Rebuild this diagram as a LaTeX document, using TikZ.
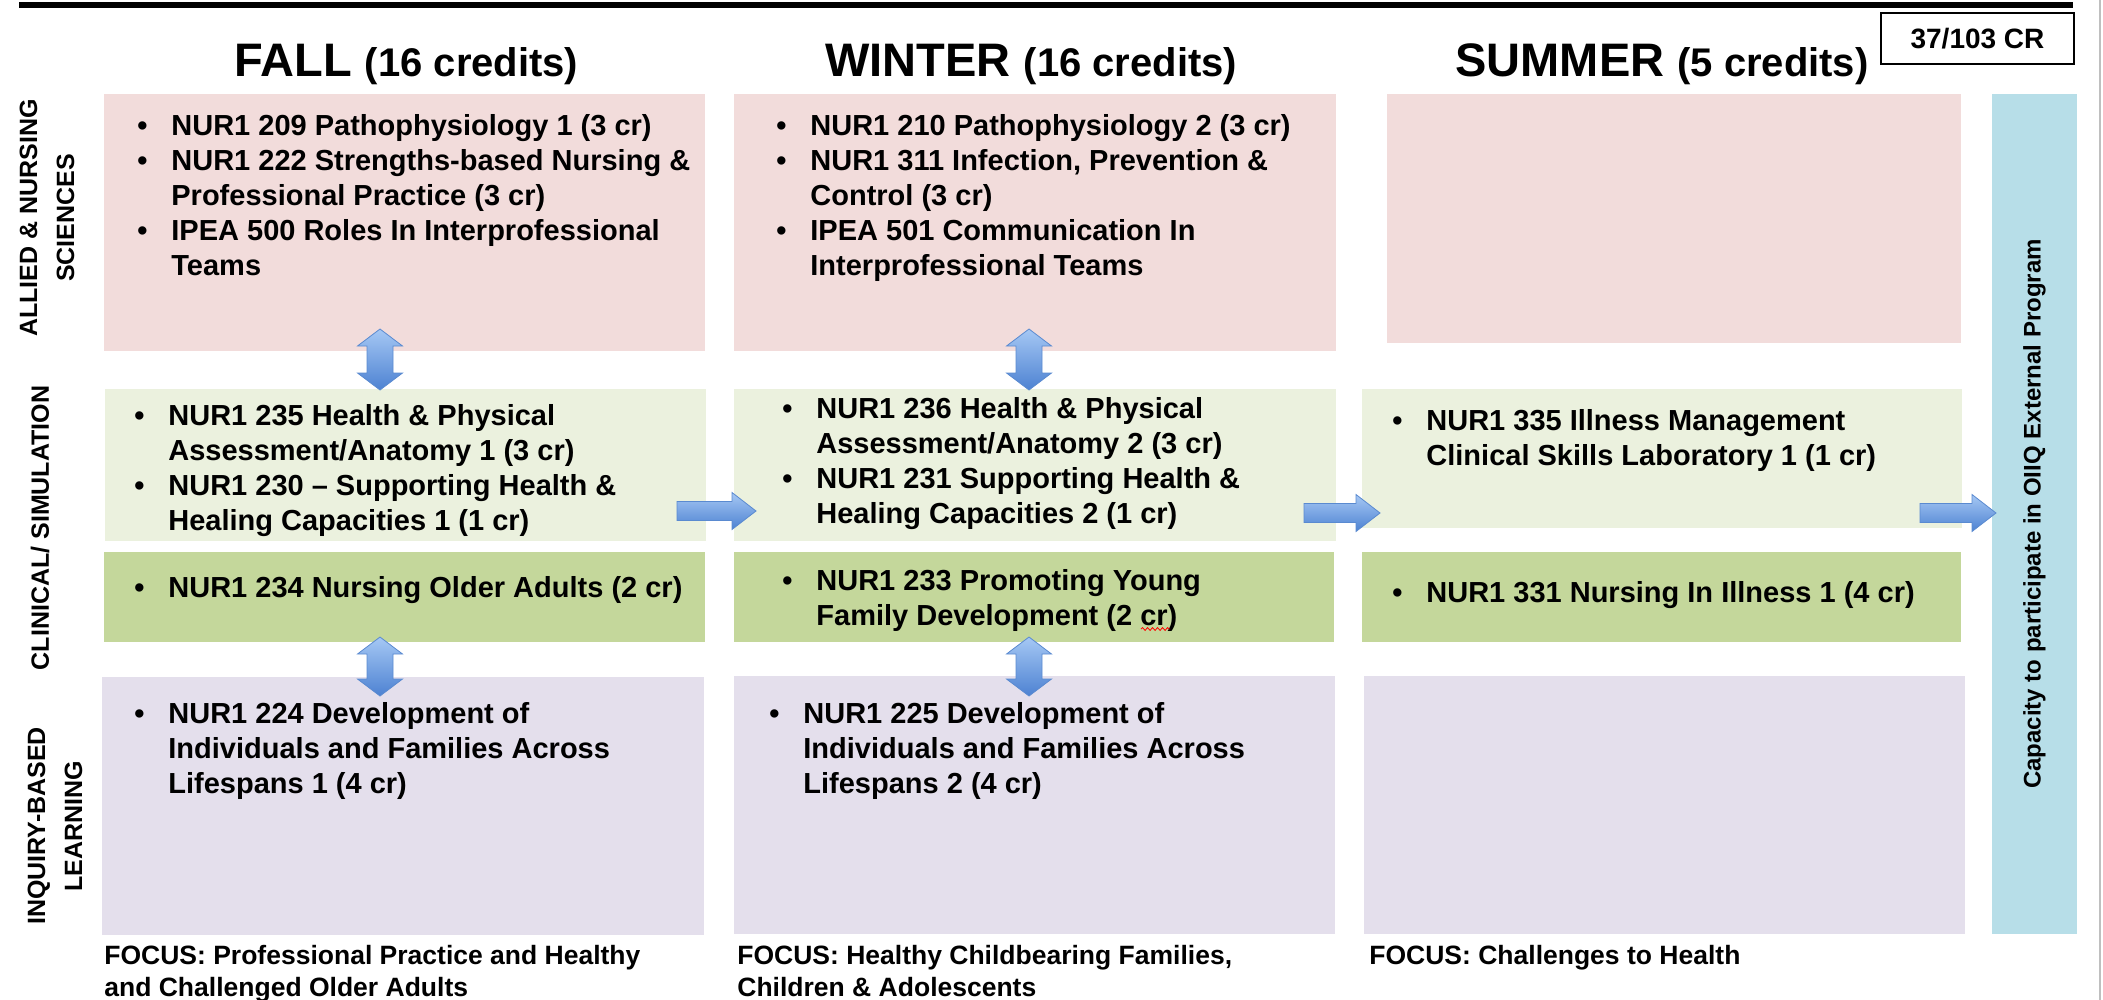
\documentclass[tikz,border=0pt]{standalone}
\usepackage{fontspec}
\setmainfont{Liberation Sans}
\usetikzlibrary{calc,fit,positioning,decorations.pathmorphing}
\definecolor{pinkbox}{HTML}{F2DCDB}
\definecolor{ltgreen}{HTML}{EBF1DE}
\definecolor{dkgreen}{HTML}{C4D79B}
\definecolor{lilac}{HTML}{E4DFEC}
\definecolor{barblue}{HTML}{B7DEE8}
\definecolor{arrtop}{HTML}{A6C8F4}
\definecolor{arrbot}{HTML}{4D82D2}
\definecolor{arredge}{HTML}{5A8AD0}
\def\bu{\makebox[17pt][l]{\textbullet}}
\def\ind{\hspace*{17pt}}
% block arrows: up/down between rows, right between terms
\newcommand{\vdarrow}[2]{\path[arrowfill] (#1) -- ($(#1)+(22.5,17)$) -- ($(#1)+(13,17)$) -- ($(#2)+(13,-17)$) -- ($(#2)+(22.5,-17)$) -- (#2) -- ($(#2)+(-22.5,-17)$) -- ($(#2)+(-13,-17)$) -- ($(#1)+(-13,17)$) -- ($(#1)+(-22.5,17)$) -- cycle;}
\newcommand{\rblock}[2]{\path[arrowfill] ($(#1)+(0,-9.5)$) -- ($(#2)+(-24,-9.5)$) -- ($(#2)+(-24,-18.5)$) -- (#2) -- ($(#2)+(-24,18.5)$) -- ($(#2)+(-24,9.5)$) -- ($(#1)+(0,9.5)$) -- cycle;}
\tikzset{
  box/.style={inner sep=0pt, fill=#1},
  crs/.style={anchor=north west, inner sep=0pt, align=left, font=\bfseries\fontsize{14.5}{17.5}\selectfont},
  focus/.style={anchor=north west, inner sep=0pt, align=left, font=\bfseries\fontsize{13.25}{16}\selectfont},
  rowlab/.style={rotate=90, align=center, inner sep=0pt, font=\bfseries\fontsize{12.5}{18.5}\selectfont},
  arrowfill/.style={top color=arrtop, bottom color=arrbot, draw=arredge, line width=0.4pt}
}

\begin{document}
\begin{tikzpicture}[x=0.5pt,y=-0.5pt]
\useasboundingbox (0,0) rectangle (2103,1000);
\draw[line width=2.8pt] (19,5) -- (2073,5);
\draw[black!25, line width=0.6pt] (2100,0) -- (2100,1000);
\node (crbox) [draw, line width=0.7pt, inner sep=0pt, fit={(1881,13) (2074,64)}] {};
\node (crtext) at (crbox.center) {\bfseries\fontsize{14}{16}\selectfont 37/103 CR};
% term headings
\node (hfall) [anchor=base west, inner sep=0pt] at (234,77) {\bfseries\fontsize{23.5}{28}\selectfont FALL \fontsize{20}{24}\selectfont(16 credits)};
\node (hwinter) [anchor=base west, inner sep=0pt] at (825,77) {\bfseries\fontsize{23.5}{28}\selectfont WINTER \fontsize{20}{24}\selectfont(16 credits)};
\node (hsummer) [anchor=base west, inner sep=0pt] at (1455,77) {\bfseries\fontsize{23.5}{28}\selectfont SUMMER \fontsize{20}{24}\selectfont(5 credits)};
% row labels
\node (lans) [rowlab] at (47,218) {ALLIED \& NURSING\\SCIENCES};
\node (lcs) [rowlab] at (40,528) {CLINICAL/ SIMULATION};
\node (libl) [rowlab] at (55,826) {INQUIRY-BASED\\LEARNING};
% cells
\node (fallans) [box=pinkbox, fit={(104,94) (705,351)}] {};
\node (winans) [box=pinkbox, fit={(734,94) (1336,351)}] {};
\node (sumans) [box=pinkbox, fit={(1387,94) (1961,343)}] {};
\node (fallcs) [box=ltgreen, fit={(105,389) (706,541)}] {};
\node (wincs) [box=ltgreen, fit={(734,389) (1336,541)}] {};
\node (sumcs) [box=ltgreen, fit={(1362,389) (1962,528)}] {};
\node (fallcl) [box=dkgreen, fit={(104,552) (705,642)}] {};
\node (wincl) [box=dkgreen, fit={(734,552) (1334,642)}] {};
\node (sumcl) [box=dkgreen, fit={(1362,552) (1961,642)}] {};
\node (fallibl) [box=lilac, fit={(102,677) (704,935)}] {};
\node (winibl) [box=lilac, fit={(734,676) (1335,934)}] {};
\node (sumibl) [box=lilac, fit={(1364,676) (1965,934)}] {};
\node (oiiq) [box=barblue, fit={(1992,94) (2077,934)}] {};
\node (oiiqtext) [rotate=90, font=\bfseries\fontsize{12}{14}\selectfont] at (oiiq.center) {Capacity to participate in OIIQ External Program};
% arrows
\coordinate (d1t) at (380,329); \coordinate (d1b) at (380,390);
\coordinate (d2t) at (1029,329); \coordinate (d2b) at (1029,390);
\coordinate (d3t) at (380,637); \coordinate (d3b) at (380,696);
\coordinate (d4t) at (1029,637); \coordinate (d4b) at (1029,696);
\coordinate (r1s) at (677,511); \coordinate (r1e) at (756,511);
\coordinate (r2s) at (1304,513); \coordinate (r2e) at (1380,513);
\coordinate (r3s) at (1920,513); \coordinate (r3e) at (1996,513);
\vdarrow{d1t}{d1b}
\vdarrow{d2t}{d2b}
\vdarrow{d3t}{d3b}
\vdarrow{d4t}{d4b}
\rblock{r1s}{r1e}
\rblock{r2s}{r2e}
\rblock{r3s}{r3e}
% course lists
\node (tfallans) [crs] at (137,114) {\bu NUR1 209 Pathophysiology 1 (3 cr)\\\bu NUR1 222 Strengths-based Nursing \&\\\ind Professional Practice (3 cr)\\\bu IPEA 500 Roles In Interprofessional\\\ind Teams};
\node (twinans) [crs] at (776,114) {\bu NUR1 210 Pathophysiology 2 (3 cr)\\\bu NUR1 311 Infection, Prevention \&\\\ind Control (3 cr)\\\bu IPEA 501 Communication In\\\ind Interprofessional Teams};
\node (tfallcs) [crs] at (134,404) {\bu NUR1 235 Health \& Physical\\\ind Assessment/Anatomy 1 (3 cr)\\\bu NUR1 230 -- Supporting Health \&\\\ind Healing Capacities 1 (1 cr)};
\node (twincs) [crs] at (782,397) {\bu NUR1 236 Health \& Physical\\\ind Assessment/Anatomy 2 (3 cr)\\\bu NUR1 231 Supporting Health \&\\\ind Healing Capacities 2 (1 cr)};
\node (tsumcs) [crs] at (1392,409) {\bu NUR1 335 Illness Management\\\ind Clinical Skills Laboratory 1 (1 cr)};
\node (tfallcl) [crs] at (134,576) {\bu NUR1 234 Nursing Older Adults (2 cr)};
\node (twincl) [crs] at (782,569) {\bu NUR1 233 Promoting Young\\\ind Family Development (2 cr)};
\node (tsumcl) [crs] at (1392,581) {\bu NUR1 331 Nursing In Illness 1 (4 cr)};
\node (tfallibl) [crs] at (134,702) {\bu NUR1 224 Development of\\\ind Individuals and Families Across\\\ind Lifespans 1 (4 cr)};
\node (twinibl) [crs] at (769,702) {\bu NUR1 225 Development of\\\ind Individuals and Families Across\\\ind Lifespans 2 (4 cr)};
\draw[red, line width=0.4pt, decorate, decoration={snake, amplitude=0.7pt, segment length=2.5pt}] (1141,629) -- (1170,629);
% focus lines
\node (ffall) [focus] at (104,945) {FOCUS: Professional Practice and Healthy\\and Challenged Older Adults};
\node (fwin) [focus] at (737,945) {FOCUS: Healthy Childbearing Families,\\Children \& Adolescents};
\node (fsum) [focus] at (1369,945) {FOCUS: Challenges to Health};
\end{tikzpicture}
\end{document}
